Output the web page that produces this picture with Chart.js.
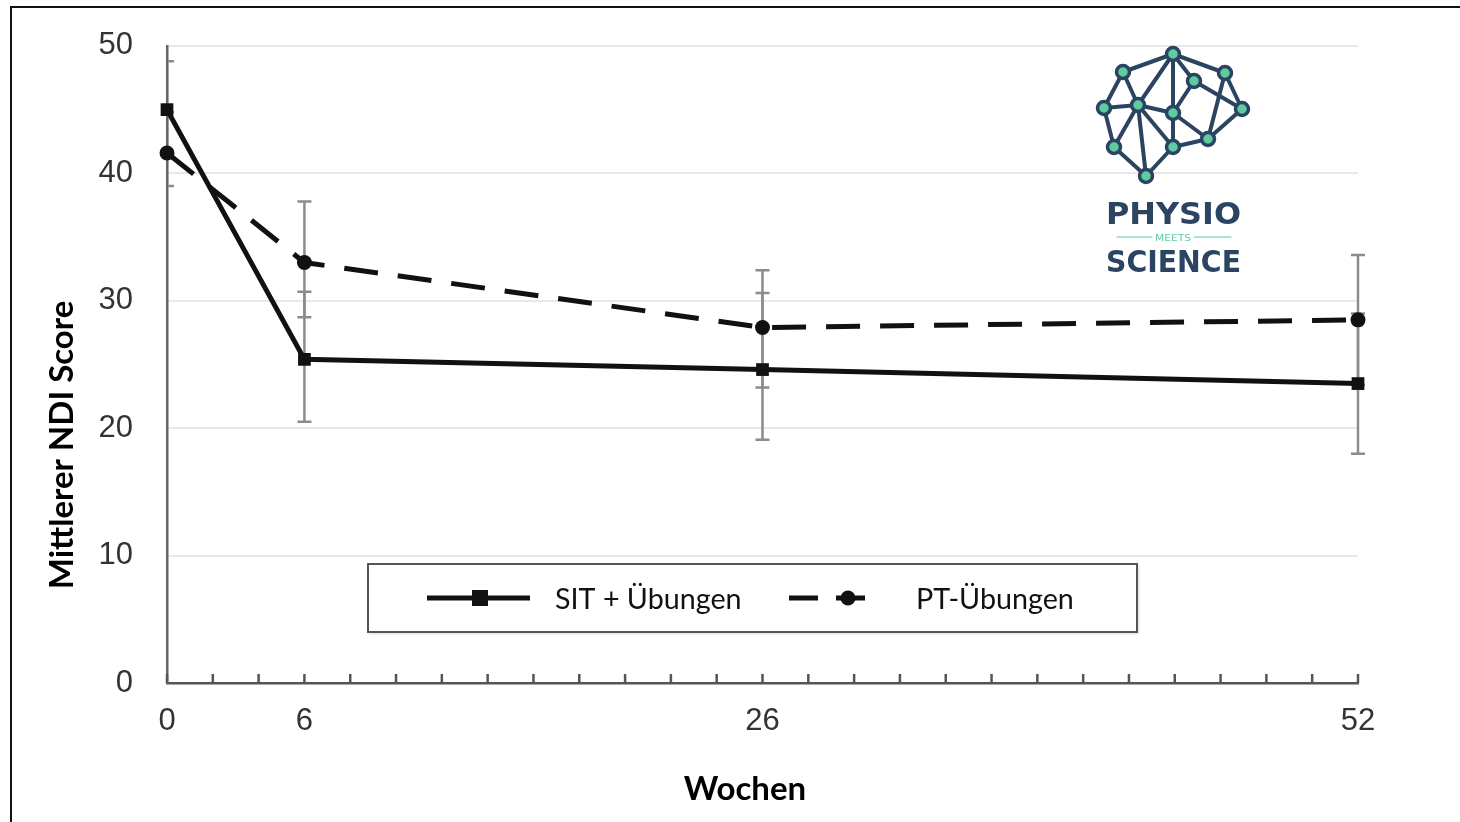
<!DOCTYPE html>
<html>
<head>
<meta charset="utf-8">
<script src="https://cdn.jsdelivr.net/npm/chart.js@4.4.1/dist/chart.umd.min.js"></script>
<style>
  html, body { margin: 0; padding: 0; background: #fff; overflow: hidden; }
  #chart { display: block; }
</style>
</head>
<body>
<canvas id="chart" width="1460" height="822"></canvas>
<script>
// weeks of follow-up
const weeks = [0, 6, 26, 52];
const labeledWeeks = [0, 6, 26, 52];
const xTickWeeks = [2, 4, 6, 8, 10, 12, 14, 16, 18, 20, 22, 24, 26, 28, 30, 32, 34, 36, 38, 40, 42, 44, 46, 48, 50, 52];
const yTicks = [0, 10, 20, 30, 40, 50];

// mean NDI score
const sitValues = [45.0, 25.4, 24.6, 23.5];
const sitUpper = [48.8, 30.7, 30.6, 29.0];
const sitLower = [41.4, 20.5, 19.1, 18.0];

const ptValues = [41.6, 33.0, 27.9, 28.5];
const ptUpper = [44.8, 37.8, 32.4, 33.6];
const ptLower = [39.0, 28.7, 23.2, 23.4];

const seriesNames = ["SIT + Übungen", "PT-Übungen"];
const axisTitleY = "Mittlerer NDI Score";
const axisTitleX = "Wochen";

const toPoints = (vals) => weeks.map((w, i) => ({ x: w, y: vals[i] }));

const errorBars = [
  { upper: sitUpper, lower: sitLower },
  { upper: ptUpper, lower: ptLower }
];

// Physio Meets Science logo
const logoNodes = {
  A: [1173, 54], B: [1123, 72], C: [1194, 81], D: [1225, 73], E: [1104, 108], F: [1138, 105],
  G: [1173, 113], H: [1242, 109], I: [1114, 147], J: [1173, 147], K: [1208, 139], L: [1146, 176]
};
const logoEdges = ["AB", "AF", "AG", "AC", "AD", "BE", "BF", "EF", "EI", "FG", "FI", "FL", "FJ",
  "IL", "LJ", "JK", "GJ", "GK", "CG", "CH", "DH", "DK", "KH"];
const navy = "#2b4461";
const teal = "#5ecba1";

const errorBarPlugin = {
  id: "errorBars",
  beforeDatasetsDraw(chart) {
    const { ctx, chartArea, scales: { x, y } } = chart;
    ctx.save();
    ctx.beginPath();
    ctx.rect(chartArea.left + 1, 0, chart.width, chart.height);
    ctx.clip();
    ctx.strokeStyle = "#8c8c8c";
    ctx.lineWidth = 2.5;
    errorBars.forEach((bar) => {
      weeks.forEach((w, i) => {
        const px = x.getPixelForValue(w);
        const top = y.getPixelForValue(bar.upper[i]);
        const bot = y.getPixelForValue(bar.lower[i]);
        ctx.beginPath();
        ctx.moveTo(px, top); ctx.lineTo(px, bot);
        ctx.moveTo(px - 7, top); ctx.lineTo(px + 7, top);
        ctx.moveTo(px - 7, bot); ctx.lineTo(px + 7, bot);
        ctx.stroke();
      });
    });
    ctx.restore();
  }
};

function fitText(ctx, text, x, y, width) {
  const w = ctx.measureText(text).width;
  ctx.save();
  ctx.translate(x, y);
  ctx.scale(width / w, 1);
  ctx.fillText(text, 0, 0);
  ctx.restore();
}

const decorPlugin = {
  id: "decor",
  afterDraw(chart) {
    const { ctx, chartArea, scales: { x } } = chart;
    ctx.save();
    // outer frame: only its top and left edges fall inside the picture
    ctx.fillStyle = "#111";
    ctx.fillRect(10, 6, chart.width - 10, 2);
    ctx.fillRect(10, 6, 2, chart.height - 6);

    // upward minor ticks on the week axis
    ctx.strokeStyle = "#555";
    ctx.lineWidth = 2.5;
    x.ticks.forEach((t) => {
      const px = x.getPixelForValue(t.value);
      ctx.beginPath();
      ctx.moveTo(px, chartArea.bottom);
      ctx.lineTo(px, chartArea.bottom - 9);
      ctx.stroke();
    });

    // axis titles
    ctx.fillStyle = "#000";
    ctx.font = "bold 33px Lato, 'Open Sans', sans-serif";
    ctx.textAlign = "center";
    ctx.textBaseline = "middle";
    ctx.fillText(axisTitleX, 745, 789);
    ctx.translate(62, 445);
    ctx.rotate(-Math.PI / 2);
    ctx.fillText(axisTitleY, 0, 0);
    ctx.restore();

    // legend box
    ctx.save();
    ctx.shadowColor = "rgba(0,0,0,0.25)";
    ctx.shadowBlur = 3;
    ctx.shadowOffsetX = 1;
    ctx.shadowOffsetY = 1;
    ctx.fillStyle = "#fff";
    ctx.fillRect(368, 564, 769, 68);
    ctx.shadowColor = "transparent";
    ctx.strokeStyle = "#555";
    ctx.lineWidth = 2;
    ctx.strokeRect(368, 564, 769, 68);

    ctx.strokeStyle = "#111";
    ctx.fillStyle = "#111";
    ctx.lineWidth = 5;
    ctx.beginPath();
    ctx.moveTo(427, 598); ctx.lineTo(530, 598);
    ctx.stroke();
    ctx.fillRect(472, 590, 16, 16);

    ctx.beginPath();
    ctx.moveTo(789, 598); ctx.lineTo(818, 598);
    ctx.moveTo(836, 598); ctx.lineTo(865, 598);
    ctx.stroke();
    ctx.beginPath();
    ctx.arc(848, 598, 7.5, 0, Math.PI * 2);
    ctx.fill();

    ctx.font = "28.7px Lato, 'Open Sans', sans-serif";
    ctx.textAlign = "left";
    ctx.textBaseline = "middle";
    ctx.fillText(seriesNames[0], 555, 600);
    ctx.fillText(seriesNames[1], 916, 600);
    ctx.restore();

    // logo
    ctx.save();
    ctx.strokeStyle = navy;
    ctx.lineWidth = 4;
    ctx.lineCap = "round";
    logoEdges.forEach((e) => {
      const a = logoNodes[e[0]], b = logoNodes[e[1]];
      ctx.beginPath();
      ctx.moveTo(a[0], a[1]); ctx.lineTo(b[0], b[1]);
      ctx.stroke();
    });
    ctx.fillStyle = teal;
    ctx.lineWidth = 3.5;
    Object.values(logoNodes).forEach((p) => {
      ctx.beginPath();
      ctx.arc(p[0], p[1], 6.5, 0, Math.PI * 2);
      ctx.fill();
      ctx.stroke();
    });
    ctx.fillStyle = navy;
    ctx.font = "bold 31px 'DejaVu Sans', sans-serif";
    ctx.textAlign = "left";
    ctx.textBaseline = "alphabetic";
    fitText(ctx, "PHYSIO", 1106, 224, 135);
    fitText(ctx, "SCIENCE", 1106, 272, 135);
    ctx.strokeStyle = teal;
    ctx.lineWidth = 1;
    ctx.beginPath();
    ctx.moveTo(1117, 237); ctx.lineTo(1152, 237);
    ctx.moveTo(1194, 237); ctx.lineTo(1231, 237);
    ctx.stroke();
    ctx.fillStyle = teal;
    ctx.font = "9px 'DejaVu Sans', sans-serif";
    fitText(ctx, "MEETS", 1155, 240.5, 36);
    ctx.restore();
  }
};

new Chart(document.getElementById("chart"), {
  type: "line",
  data: {
    datasets: [
      {
        label: seriesNames[0],
        data: toPoints(sitValues),
        borderColor: "#111",
        backgroundColor: "#111",
        borderWidth: 5,
        pointStyle: "rect",
        pointRadius: 9,
        pointBorderWidth: 0,
        tension: 0,
        clip: false
      },
      {
        label: seriesNames[1],
        data: toPoints(ptValues),
        borderColor: "#111",
        backgroundColor: "#111",
        borderWidth: 5,
        borderDash: [34, 20],
        pointStyle: "circle",
        pointRadius: 7.5,
        pointBorderWidth: 0,
        tension: 0,
        clip: false
      }
    ]
  },
  options: {
    responsive: false,
    animation: false,
    layout: { padding: { left: 0, top: 30, right: 102, bottom: 0 } },
    plugins: { legend: { display: false }, tooltip: { enabled: false } },
    scales: {
      x: {
        type: "linear",
        min: 0,
        max: 52,
        afterBuildTicks: (axis) => { axis.ticks = xTickWeeks.concat([0]).map((v) => ({ value: v })); },
        afterFit: (scale) => { scale.height = 822 - 683; },
        grid: { display: true, drawOnChartArea: false, drawTicks: false, tickLength: 0 },
        border: { display: true, color: "#555", width: 2.5 },
        ticks: {
          autoSkip: false,
          maxRotation: 0,
          padding: 20,
          color: "#333",
          font: { family: "'Liberation Sans', Arial, sans-serif", size: 31 },
          callback: (value) => (labeledWeeks.includes(value) ? String(value) : "")
        }
      },
      y: {
        min: 0,
        max: 50,
        afterBuildTicks: (axis) => { axis.ticks = yTicks.map((v) => ({ value: v })); },
        afterFit: (scale) => { scale.width = 167; },
        grid: { color: "#e8e8e8", lineWidth: 2, drawTicks: false, tickLength: 0 },
        border: { display: true, color: "#666", width: 2.5 },
        ticks: {
          padding: 34,
          color: "#333",
          font: { family: "'Liberation Sans', Arial, sans-serif", size: 31, lineHeight: 0.77 }
        }
      }
    }
  },
  plugins: [errorBarPlugin, decorPlugin]
});
</script>
</body>
</html>
